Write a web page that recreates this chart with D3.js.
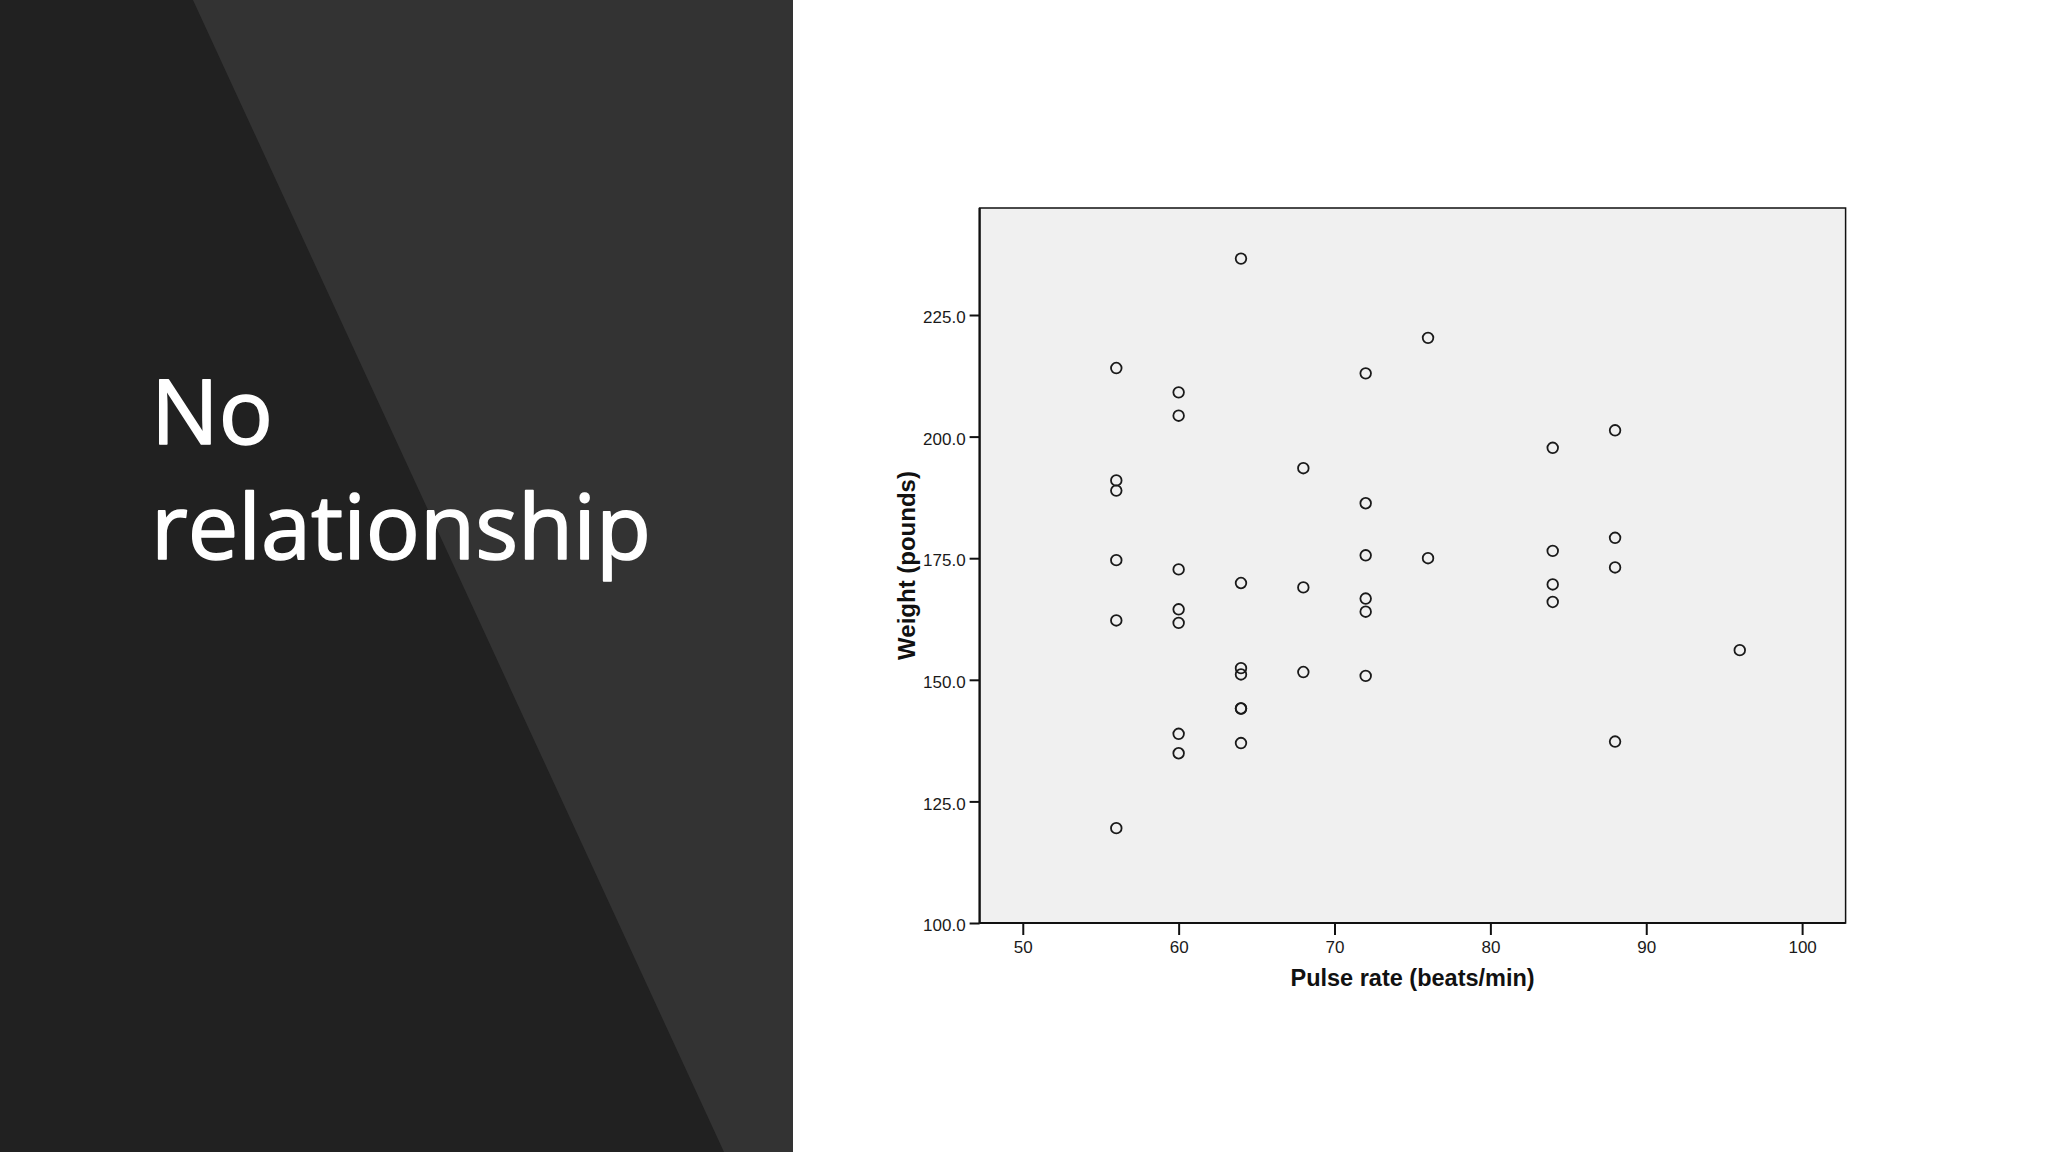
<!DOCTYPE html>
<html>
<head>
<meta charset="utf-8">
<script src="https://cdn.jsdelivr.net/npm/d3@7"></script>
<style>
  html, body { margin: 0; padding: 0; background: #ffffff; }
  svg { display: block; }
</style>
</head>
<body>
<svg id="chart" width="2048" height="1152"></svg>
<script>
// ---- data ----
const titleLines = ["No", "relationship"];
const xLabel = "Pulse rate (beats/min)";
const yLabel = "Weight (pounds)";
const xTicks = [50, 60, 70, 80, 90, 100];
const yTicks = [100, 125, 150, 175, 200, 225];
const xDomain = [47.23, 102.79];
const yDomain = [100, 247];

const pulse = [
  56, 56, 56, 56, 56, 56,
  60, 60, 60, 60, 60, 60, 60,
  64, 64, 64, 64, 64, 64, 64,
  68, 68, 68,
  72, 72, 72, 72, 72, 72,
  76, 76,
  84, 84, 84, 84,
  88, 88, 88, 88,
  96
];
const weight = [
  214.1, 191.0, 188.9, 174.6, 162.2, 119.5,
  209.1, 204.3, 172.7, 164.5, 161.7, 138.9, 134.9,
  236.6, 169.9, 152.4, 151.1, 144.1, 144.1, 137.0,
  193.5, 169.0, 151.6,
  213.0, 186.3, 175.6, 166.7, 164.0, 150.8,
  220.3, 175.0,
  197.7, 176.5, 169.6, 166.0,
  201.3, 179.2, 173.1, 137.3,
  156.1
];

// ---- layout ----
const W = 2048, H = 1152;
const svg = d3.select("#chart");

// left dark panel with diagonal lighter band
const panelW = 793;
svg.append("rect").attr("x", 0).attr("y", 0).attr("width", panelW).attr("height", H).attr("fill", "#212121");
svg.append("path")
  .attr("d", `M193,0 L${panelW},0 L${panelW},${H} L724,${H} Z`)
  .attr("fill", "#333333");

// title
const title = svg.append("text")
  .attr("font-family", "'Open Sans', 'Noto Sans', sans-serif")
  .attr("font-size", 90)
  .attr("font-weight", 400)
  .attr("fill", "#ffffff")
  .attr("stroke", "#ffffff")
  .attr("stroke-width", 1.6)
  .attr("stroke-linejoin", "round");
title.selectAll("tspan").data(titleLines).enter().append("tspan")
  .attr("x", 151)
  .attr("y", (d, i) => 444 + i * 115)
  .text(d => d);

// plot area
const plot = { left: 979.6, right: 1845.6, top: 208, bottom: 923 };
const x = d3.scaleLinear().domain(xDomain).range([plot.left, plot.right]);
const y = d3.scaleLinear().domain(yDomain).range([plot.bottom, plot.top]);

svg.append("rect")
  .attr("x", plot.left).attr("y", plot.top)
  .attr("width", plot.right - plot.left).attr("height", plot.bottom - plot.top)
  .attr("fill", "#f0f0f0")
  .attr("stroke", "#111").attr("stroke-width", 1.5);

// axes
const tickFont = "'Liberation Sans', Arial, sans-serif";
const xAxis = d3.axisBottom(x).tickValues(xTicks).tickFormat(d3.format("d"))
  .tickSize(12).tickSizeOuter(0).tickPadding(6);
const gx = svg.append("g").attr("transform", `translate(0,${plot.bottom})`).call(xAxis);
gx.select(".domain").remove();
gx.selectAll(".tick line").attr("stroke", "#111").attr("stroke-width", 2);
gx.selectAll(".tick text").attr("font-family", tickFont).attr("font-size", 17).attr("fill", "#1a1a1a");

const yAxis = d3.axisLeft(y).tickValues(yTicks).tickFormat(d3.format(".1f"))
  .tickSize(10).tickSizeOuter(0).tickPadding(4);
const gy = svg.append("g").attr("transform", `translate(${plot.left},0)`).call(yAxis);
gy.select(".domain").remove();
gy.selectAll(".tick line").attr("stroke", "#111").attr("stroke-width", 2);
gy.selectAll(".tick text").attr("font-family", tickFont).attr("font-size", 17).attr("fill", "#1a1a1a")
  .attr("dy", "0.45em");

// axis lines (thicker left & bottom)
svg.append("line").attr("x1", plot.left).attr("x2", plot.left).attr("y1", plot.top).attr("y2", plot.bottom)
  .attr("stroke", "#111").attr("stroke-width", 2.2);
svg.append("line").attr("x1", plot.left).attr("x2", plot.right).attr("y1", plot.bottom).attr("y2", plot.bottom)
  .attr("stroke", "#111").attr("stroke-width", 2.2);

// axis titles
svg.append("text")
  .attr("x", (plot.left + plot.right) / 2).attr("y", 986)
  .attr("text-anchor", "middle")
  .attr("font-family", tickFont).attr("font-weight", "bold").attr("font-size", 23.5)
  .attr("fill", "#111").text(xLabel);

svg.append("text")
  .attr("transform", `translate(915,${(plot.top + plot.bottom) / 2}) rotate(-90)`)
  .attr("text-anchor", "middle")
  .attr("font-family", tickFont).attr("font-weight", "bold").attr("font-size", 24)
  .attr("fill", "#111").text(yLabel);

// points
const pts = pulse.map((p, i) => ({ p, w: weight[i] }));
svg.append("g").selectAll("circle").data(pts).enter().append("circle")
  .attr("cx", d => x(d.p))
  .attr("cy", d => y(d.w))
  .attr("r", 5.3)
  .attr("fill", "none")
  .attr("stroke", "#1a1a1a")
  .attr("stroke-width", 1.8);
</script>
</body>
</html>
